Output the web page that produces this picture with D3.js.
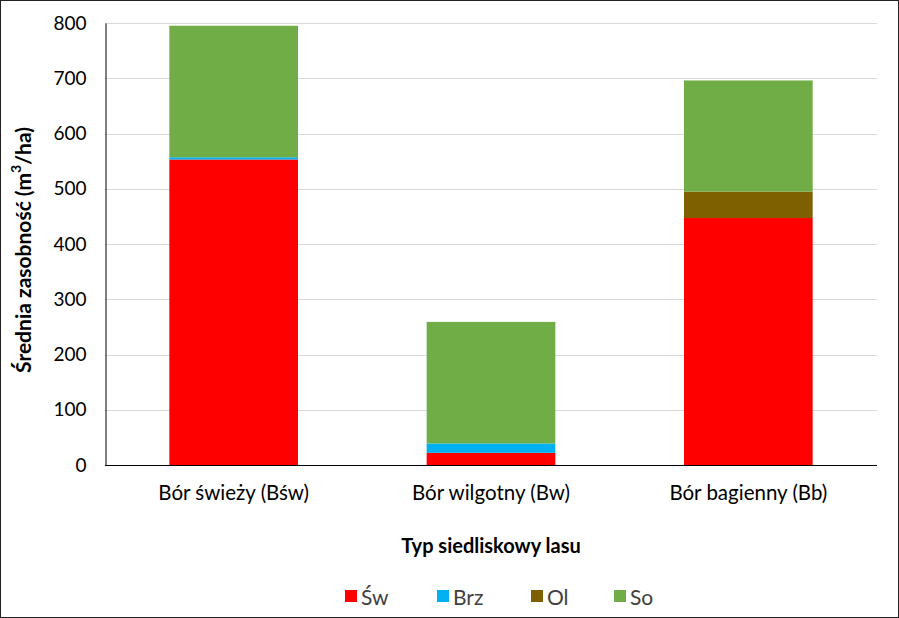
<!DOCTYPE html>
<html><head><meta charset="utf-8">
<script src="https://cdn.jsdelivr.net/npm/d3@7"></script>
<style>body{margin:0;background:#fff}svg{display:block}text{font-family:Lato,"Open Sans",sans-serif}</style>
</head><body><svg id="c" width="899" height="618"></svg>
<script>
const categories = ["Bór świeży (Bśw)", "Bór wilgotny (Bw)", "Bór bagienny (Bb)"];
const seriesNames = ["Św", "Brz", "Ol", "So"];
const seriesColors = ["#ff0000", "#00b0f0", "#7f6000", "#70ad47"];
const swValues = [553, 22, 447];
const brzValues = [4, 17, 0];
const olValues = [0, 0, 48];
const soValues = [238, 220, 201];
const yTicks = [0, 100, 200, 300, 400, 500, 600, 700, 800];

const svg = d3.select("#c");
const W = 899, H = 618;
const m = {left: 105, right: 877, top: 23, bottom: 465};

svg.append("rect").attr("x",0.5).attr("y",0.5).attr("width",W-1).attr("height",H-1)
  .attr("fill","#fff").attr("stroke","#222").attr("stroke-width",1);

const x = d3.scaleBand().domain(categories).range([m.left, m.right]).paddingInner(0.5).paddingOuter(0.25);
const y = d3.scaleLinear().domain([0, 800]).range([m.bottom, m.top]);

// gridlines
svg.append("g").selectAll("line").data(yTicks.slice(1)).join("line")
  .attr("x1", m.left).attr("x2", m.right)
  .attr("y1", d => Math.round(y(d))+0.5).attr("y2", d => Math.round(y(d))+0.5)
  .attr("stroke", "#d9d9d9").attr("stroke-width", 1);

const rows = categories.map((c,i) => ({cat:c, "Św":swValues[i], "Brz":brzValues[i], "Ol":olValues[i], "So":soValues[i]}));
const stack = d3.stack().keys(seriesNames)(rows);
const color = d3.scaleOrdinal().domain(seriesNames).range(seriesColors);

svg.append("g").selectAll("g").data(stack).join("g").attr("fill", d => color(d.key))
  .selectAll("rect").data(d => d).join("rect")
  .attr("x", d => x(d.data.cat)).attr("width", x.bandwidth())
  .attr("y", d => y(d[1])).attr("height", d => y(d[0]) - y(d[1]));

// axes
const yAxis = d3.axisLeft(y).tickValues(yTicks).tickSize(0).tickPadding(19);
const gy = svg.append("g").attr("transform", `translate(${m.left+0.5},0)`).call(yAxis);
gy.select(".domain").attr("stroke", "#000");
gy.selectAll("text").attr("font-size", 19).attr("fill", "#000");

const xAxis = d3.axisBottom(x).tickSize(0).tickPadding(20);
const gx = svg.append("g").attr("transform", `translate(0,${m.bottom+0.5})`).call(xAxis);
gx.select(".domain").attr("stroke", "#000").attr("d", `M${m.left},0H${m.right}`);
gx.selectAll("text").attr("font-size", 20.5).attr("fill", "#000");

// titles
svg.append("text").attr("transform", `translate(22,${(m.top+m.bottom)/2 + 6}) rotate(-90)`)
  .attr("text-anchor","middle").attr("dominant-baseline","central")
  .attr("font-size", 21).attr("font-weight","bold").attr("fill","#000")
  .html('Średnia zasobność (m<tspan dy="-7" font-size="14">3</tspan><tspan dy="7">/ha)</tspan>');

svg.append("text").attr("x", (m.left+m.right)/2).attr("y", 553).attr("text-anchor","middle")
  .attr("font-size", 20).attr("font-weight","bold").attr("fill","#000").text("Typ siedliskowy lasu");

// legend
const legX = [345, 437, 531, 614];
const lg = svg.append("g").selectAll("g").data(seriesNames).join("g")
  .attr("transform", (d,i) => `translate(${legX[i]},590)`);
lg.append("rect").attr("width", 12).attr("height", 12).attr("fill", d => color(d));
lg.append("text").attr("x", 16).attr("y", 6).attr("dominant-baseline","central")
  .attr("font-size", 21).attr("fill", "#404040").text(d => d);
</script></body></html>
